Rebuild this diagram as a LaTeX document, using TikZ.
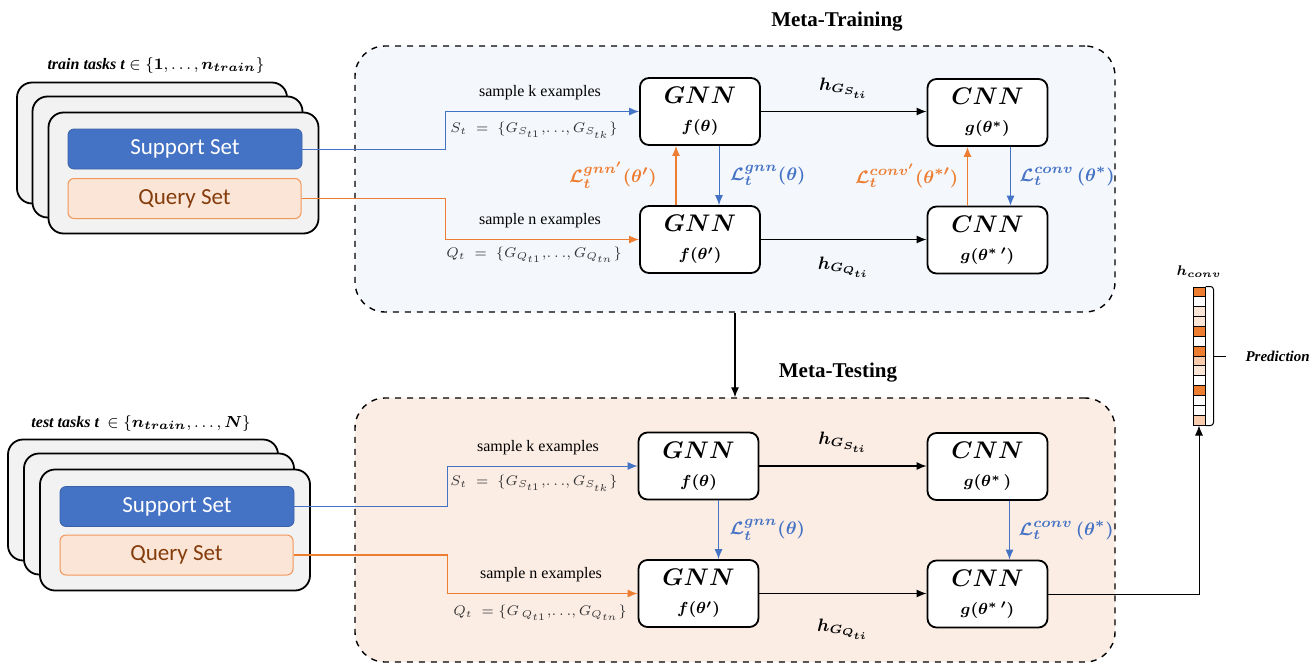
\documentclass[tikz,border=0pt]{standalone}
\usepackage{amsmath,bm}
\usepackage{fontspec}
\setmainfont{Liberation Serif}
\newfontfamily\calibri{Carlito}
\usetikzlibrary{shapes,arrows,arrows.meta,positioning}
\definecolor{trainbg}{HTML}{F4F7FC}
\definecolor{testbg}{HTML}{FCEDE4}
\definecolor{cardgray}{HTML}{F2F2F2}
\definecolor{setblue}{HTML}{4472C4}
\definecolor{setorange}{HTML}{ED7D31}
\definecolor{queryfill}{HTML}{FBE5D6}
\definecolor{querytext}{HTML}{843C0C}
\definecolor{vdark}{HTML}{ED7D31}
\definecolor{vmid}{HTML}{F8CBAD}
\definecolor{vlight}{HTML}{FBE5D6}
\newcommand{\modeltext}[2]{{\fontsize{11.5}{14}\selectfont$\bm{#1}$}\\[1.5pt]{$\bm{#2}$}}
\tikzstyle{metabox} = [draw, dashed, rounded corners=15pt, line width=0.7pt, minimum width=380pt, minimum height=133pt]
\tikzstyle{metatitle} = [font=\bfseries\fontsize{10.5}{12}\selectfont]
\tikzstyle{tasktitle} = [font=\fontsize{8}{9}\selectfont]
\tikzstyle{taskcard} = [draw, fill=cardgray, rounded corners=7.5pt, line width=0.9pt, minimum width=135pt, minimum height=60.5pt]
\tikzstyle{supportset} = [fill=setblue, draw=setblue!85!black, line width=0.4pt, rounded corners=3pt, minimum width=117pt, minimum height=20pt, text=white, font=\calibri\fontsize{11.5}{12}\selectfont]
\tikzstyle{queryset} = [fill=queryfill, draw=setorange!80, line width=0.5pt, rounded corners=3pt, minimum width=116.5pt, minimum height=20pt, text=querytext, font=\calibri\fontsize{11.5}{12}\selectfont]
\tikzstyle{model} = [draw, fill=white, rounded corners=4.5pt, line width=0.9pt, minimum width=60pt, minimum height=33.5pt, align=center, inner sep=0pt, font=\fontsize{8.5}{12.5}\selectfont]
\tikzstyle{sampletext} = [font=\fontsize{8}{10}\selectfont]
\tikzstyle{settext} = [text=black!80, font=\fontsize{6.8}{8}\selectfont]
\tikzstyle{losstext} = [font=\fontsize{9.4}{11}\selectfont]
\tikzstyle{htext} = [font=\fontsize{9}{11}\selectfont]
\tikzstyle{blueline} = [draw=setblue, line width=0.5pt, ->]
\tikzstyle{orangeline} = [draw=setorange, line width=0.6pt, ->]
\tikzstyle{blackline} = [draw=black, line width=0.6pt, ->]
\tikzstyle{cell} = [draw, line width=0.5pt, minimum width=6pt, minimum height=4.93pt, inner sep=0pt]
\begin{document}
\begin{tikzpicture}[x=0.5pt, y=-0.5pt, >={Latex[length=5pt,width=4pt]}]
\useasboundingbox (0,0) rectangle (1311,664);

% meta-training / meta-testing frames
\node[metabox, fill=trainbg] (train) at (735,179) {};
\node[metabox, fill=testbg, minimum height=132pt] (test) at (735,530) {};
\node[metatitle] (traintitle) at (837,22) {Meta-Training};
\node[metatitle] (testtitle) at (838,373) {Meta-Testing};
\draw[blackline] (train.south) -- (test.north);

% train tasks
\node[tasktitle] (traintasks) at (156,65) {\textbf{\textit{train tasks t}} $\in \{\bm{1},\ldots,\bm{n_{train}}\}$};
\node[taskcard] (cardA1) at (152,143) {};
\node[taskcard] (cardA2) at (167.5,157) {};
\node[taskcard] (cardA3) at (183.5,173) {};
\node[supportset] (supA) at (185,149) {Support Set};
\node[queryset] (qryA) at (184.5,198.5) {Query Set};

% test tasks
\node[tasktitle] (testtasks) at (141,423) {\textbf{\textit{test tasks t}}\ \ $\in \{\bm{n_{train}},\ldots,\bm{N}\}$};
\node[taskcard] (cardB1) at (143,500) {};
\node[taskcard] (cardB2) at (159,514) {};
\node[taskcard] (cardB3) at (175,530) {};
\node[supportset] (supB) at (177,506.5) {Support Set};
\node[queryset] (qryB) at (176.5,555) {Query Set};

% models, meta-training
\node[model] (gnnA) at (700,111.5) {\modeltext{GNN}{f(\theta)}};
\node[model] (gnnAq) at (700,239.5) {\modeltext{GNN}{f(\theta')}};
\node[model] (cnnA) at (987.5,112.5) {\modeltext{CNN}{g(\theta^{*})}};
\node[model] (cnnAq) at (987.5,240) {\modeltext{CNN}{g(\theta^{*}\,')}};

% models, meta-testing
\node[model] (gnnB) at (698.5,466) {\modeltext{GNN}{f(\theta)}};
\node[model] (gnnBq) at (698.5,593.5) {\modeltext{GNN}{f(\theta')}};
\node[model] (cnnB) at (987.5,466.5) {\modeltext{CNN}{g(\theta^{*}\,)}};
\node[model] (cnnBq) at (987.5,594) {\modeltext{CNN}{g(\theta^{*}\,')}};

% sampling
\draw[blueline] (supA.east) -- ++(143,0) |- (gnnA.west);
\draw[orangeline] (qryA.east) -- ++(144,0) |- (gnnAq.west);
\node[sampletext] (sampA) at (540,93) {sample k examples};
\node[settext] (setA) at (534,130) {$S_t\;=\;\{G_{S_{t1}},\!\ldots\!,G_{S_{tk}}\}$};
\node[sampletext] (sampAq) at (540,221) {sample n examples};
\node[settext] (setAq) at (534,255) {$Q_t\;=\;\{G_{Q_{t1}},\!\ldots\!,G_{Q_{tn}}\}$};

\draw[blueline] (supB.east) -- ++(153,0) |- (gnnB.west);
\draw[orangeline] (qryB.east) -- ++(154,0) |- (gnnBq.west);
\node[sampletext] (sampB) at (538,448) {sample k examples};
\node[settext] (setB) at (534,483) {$S_t\;=\;\{G_{S_{t1}},\!\ldots\!,G_{S_{tk}}\}$};
\node[sampletext] (sampBq) at (541,575) {sample n examples};
\node[settext] (setBq) at (540,613) {$Q_t\;=\{G_{\,Q_{t1}},\!\ldots\!,G_{Q_{tn}}\}$};

% embeddings
\draw[blackline] (gnnA.east) -- node[htext, above=3pt] {$\bm{h_{G_{S_{ti}}}}$} (cnnA.west |- gnnA.east);
\draw[blackline] (gnnAq.east) -- node[htext, below=5pt] {$\bm{h_{G_{Q_{ti}}}}$} (cnnAq.west |- gnnAq.east);
\draw[blackline] (gnnB.east) -- node[htext, above=3pt] {$\bm{h_{G_{S_{ti}}}}$} (cnnB.west |- gnnB.east);
\draw[blackline] (gnnBq.east) -- node[htext, below=9pt] {$\bm{h_{G_{Q_{ti}}}}$} (cnnBq.west |- gnnBq.east);

% losses, meta-training
\draw[orangeline] ([xshift=-12pt]gnnAq.north) -- node[losstext, left=6pt, text=setorange] {$\bm{\mathcal{L}_t^{gnn'}(\theta')}$} ([xshift=-12pt]gnnA.south);
\draw[blueline] ([xshift=9.5pt]gnnA.south) -- node[losstext, right=2pt, text=setblue] {$\bm{\mathcal{L}_t^{gnn}(\theta)}$} ([xshift=9.5pt]gnnAq.north);
\draw[orangeline] ([xshift=-10pt]cnnAq.north) -- node[losstext, left=1pt, text=setorange] {$\bm{\mathcal{L}_t^{conv'}(\theta^{*\prime})}$} ([xshift=-10pt]cnnA.south);
\draw[blueline] ([xshift=11.5pt]cnnA.south) -- node[losstext, right=1pt, text=setblue] {$\bm{\mathcal{L}_t^{conv}\,(\theta^{*})}$} ([xshift=11.5pt]cnnAq.north);

% losses, meta-testing
\draw[blueline] ([xshift=10pt]gnnB.south) -- node[losstext, right=2pt, text=setblue] {$\bm{\mathcal{L}_t^{gnn}(\theta)}$} ([xshift=10pt]gnnBq.north);
\draw[blueline] ([xshift=11pt]cnnB.south) -- node[losstext, right=1pt, text=setblue] {$\bm{\mathcal{L}_t^{conv}\,(\theta^{*})}$} ([xshift=11pt]cnnBq.north);

% output vector
\foreach \col [count=\i] in {vdark,white,vlight,vlight,vdark,white,vdark,vmid,vlight,white,vdark,white,white,vmid}
  \node[cell, fill=\col] (v\i) at (1199,{287+9.857*(\i-0.5)}) {};
\draw[line width=0.5pt, rounded corners=1.5pt] (v1.north east) -- ++(8,0) |- (v14.south east);
\draw[line width=0.5pt] ([xshift=4pt]v7.south east) -- ++(12,0);
\node[anchor=west, font=\bfseries\itshape\fontsize{7.5}{8}\selectfont] (pred) at ([xshift=16.5pt]v7.south east) {Prediction};
\node[above=1pt of v1, font=\fontsize{7.5}{9}\selectfont] (hconv) {$\bm{h_{conv}}$};
\draw[draw=black, line width=0.5pt, ->] (cnnBq.east) -| (v14.south);
\end{tikzpicture}
\end{document}
